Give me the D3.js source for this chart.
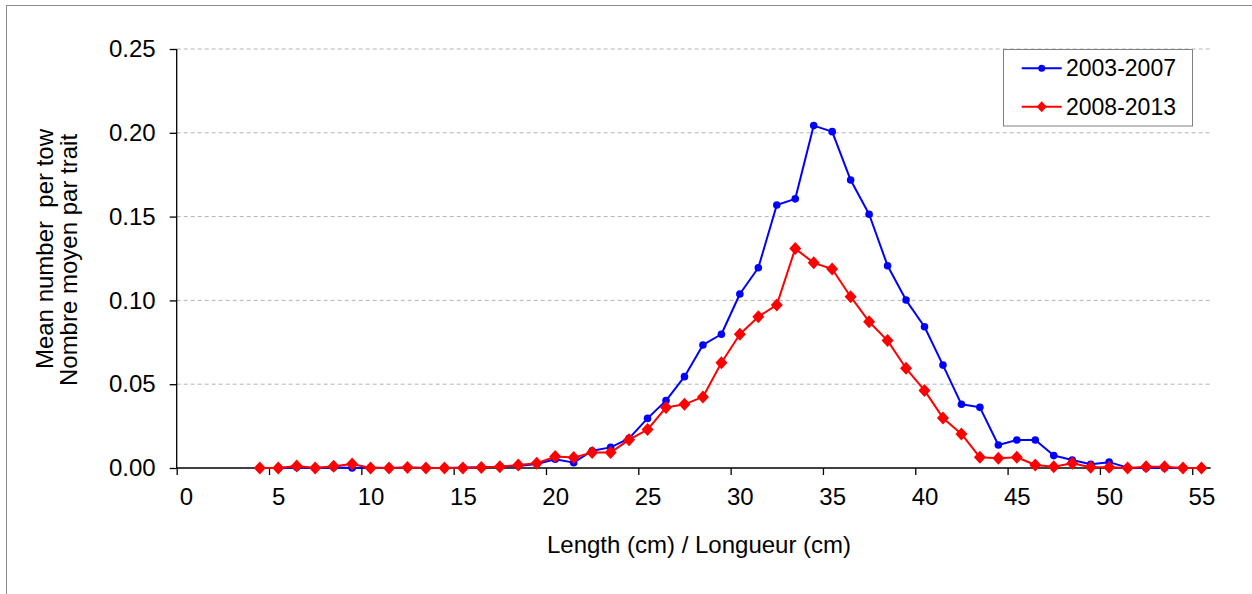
<!DOCTYPE html>
<html>
<head>
<meta charset="utf-8">
<script src="https://cdn.jsdelivr.net/npm/d3@7/dist/d3.min.js"></script>
<style>
  html, body { margin: 0; padding: 0; background: #fff; }
  svg { display: block; font-family: "Liberation Sans", Arial, sans-serif; }
</style>
</head>
<body>
<svg id="chart" width="1252" height="594"></svg>
<script>
// ---- data ----
const lengths = [4,5,6,7,8,9,10,11,12,13,14,15,16,17,18,19,20,21,22,23,24,25,26,27,28,29,
                 30,31,32,33,34,35,36,37,38,39,40,41,42,43,44,45,46,47,48,49,50,51,52,53,54,55];
const series2003_2007 = [0,0,0.0005,0,0.0005,0,0.0003,0,0.0003,0,0,0.0003,0.0005,0.0008,0.0012,0.0024,
                 0.0052,0.0032,0.0103,0.0123,0.0177,0.0296,0.0402,0.0545,0.0734,0.0798,
                 0.1038,0.1195,0.1569,0.1606,0.2043,0.2007,0.1718,0.1514,0.1207,0.1002,
                 0.0843,0.0614,0.038,0.0362,0.0137,0.0167,0.0167,0.0074,0.0048,0.0022,
                 0.0035,0.0002,0,0,0,0];
const series2008_2013 = [0,0,0.0012,0,0.001,0.0024,0,0,0.0003,0,0,0,0.0003,0.0008,0.0018,0.0028,
                 0.0068,0.0062,0.0093,0.0092,0.0169,0.0229,0.0361,0.038,0.0424,0.0628,
                 0.0798,0.0903,0.0973,0.1309,0.1224,0.1187,0.1022,0.0873,0.076,0.0595,
                 0.0463,0.0299,0.0203,0.0064,0.0058,0.0064,0.0018,0.0008,0.0028,0.0004,
                 0.0004,0,0.0008,0.0008,0,0];
const seriesNames = ["2003-2007", "2008-2013"];
const xTickLabels = [0,5,10,15,20,25,30,35,40,45,50,55];
const yTickValues = [0,0.05,0.10,0.15,0.20,0.25];
const yTitleLines = ["Mean number  per tow", "Nombre moyen par trait"];
const xTitle = "Length (cm) / Longueur (cm)";

// ---- layout ----
const svg = d3.select("#chart");
const plot = { left: 176.7, right: 1210.7, top: 49, bottom: 468 };
const fontSize = 24;

const x = d3.scaleLinear().domain([-0.5, 55.5]).range([plot.left, plot.right]);
const y = d3.scaleLinear().domain([0, 0.25]).range([plot.bottom, plot.top]);

// outer border
svg.append("rect").attr("x", 6.5).attr("y", 5.5).attr("width", 1260).attr("height", 600)
  .attr("fill", "none").attr("stroke", "#8c8c8c").attr("stroke-width", 1);

// grid
svg.append("g").selectAll("line").data(yTickValues.filter(d => d > 0)).join("line")
  .attr("x1", plot.left).attr("x2", plot.right)
  .attr("y1", d => y(d)).attr("y2", d => y(d))
  .attr("stroke", "#b4b4b4").attr("stroke-width", 1).attr("stroke-dasharray", "4,3");

// y axis
const yAxis = d3.axisLeft(y).tickValues(yTickValues).tickFormat(d3.format(".2f"))
  .tickSize(7).tickPadding(14);
const gy = svg.append("g").attr("transform", `translate(${plot.left},0)`).call(yAxis);
gy.select(".domain").attr("stroke", "#000").attr("stroke-width", 1.3).attr("d", `M0,${plot.top}V${plot.bottom}`);
gy.selectAll(".tick line").attr("stroke", "#000").attr("stroke-width", 1.3);
gy.selectAll(".tick text").attr("font-size", fontSize).attr("fill", "#000")
  .attr("font-family", "'Liberation Sans', Arial, sans-serif");

// x axis: tick marks at category boundaries, labels at category centres
const xTickMarks = xTickLabels.map(v => v - 0.5);
const xAxisMarks = d3.axisBottom(x).tickValues(xTickMarks).tickFormat("").tickSize(7).tickSizeOuter(0);
const gxm = svg.append("g").attr("transform", `translate(0,${plot.bottom})`).call(xAxisMarks);
gxm.select(".domain").attr("stroke", "#000").attr("stroke-width", 1.3).attr("d", `M${plot.left},0H${plot.right}`);
gxm.selectAll(".tick line").attr("stroke", "#000").attr("stroke-width", 1.3);

const xAxisLabels = d3.axisBottom(x).tickValues(xTickLabels).tickSize(0).tickPadding(20);
const gxl = svg.append("g").attr("transform", `translate(0,${plot.bottom})`).call(xAxisLabels);
gxl.select(".domain").remove();
gxl.selectAll(".tick text").attr("font-size", fontSize).attr("fill", "#000")
  .attr("font-family", "'Liberation Sans', Arial, sans-serif");

// axis titles
svg.append("text").attr("x", 699).attr("y", 553).attr("text-anchor", "middle")
  .attr("font-size", fontSize).attr("fill", "#000").text(xTitle);
const yTitleCenters = [[53, 249], [77, 260]];
yTitleLines.forEach((t, i) => {
  svg.append("text")
    .attr("transform", `translate(${yTitleCenters[i][0]},${yTitleCenters[i][1]}) rotate(-90)`)
    .attr("text-anchor", "middle").attr("font-size", fontSize).attr("fill", "#000")
    .attr("xml:space", "preserve").style("white-space", "pre").text(t);
});

// lines and markers
const colors = ["#0000ff", "#ff0000"];
const allSeries = [series2003_2007, series2008_2013];
const line = d3.line().x((d, i) => x(lengths[i])).y(d => y(d));
const diamond = d3.symbol().type(d3.symbolDiamond2 || d3.symbolDiamond);

allSeries.forEach((vals, s) => {
  svg.append("path").datum(vals).attr("d", line)
    .attr("fill", "none").attr("stroke", colors[s]).attr("stroke-width", 2)
    .attr("stroke-linejoin", "round");
});
// red series drawn on top like the reference
svg.append("g").selectAll("circle").data(series2003_2007).join("circle")
  .attr("cx", (d, i) => x(lengths[i])).attr("cy", d => y(d)).attr("r", 3.8)
  .attr("fill", colors[0]);
svg.append("g").selectAll("path").data(series2008_2013).join("path")
  .attr("transform", (d, i) => `translate(${x(lengths[i])},${y(d)})`)
  .attr("d", "M0,-6.5L6,0L0,6.5L-6,0Z").attr("fill", colors[1]);

// legend
const lg = svg.append("g");
lg.append("rect").attr("x", 1003.5).attr("y", 49.5).attr("width", 189).attr("height", 76.5)
  .attr("fill", "#fff").attr("stroke", "#808080").attr("stroke-width", 1);
const legendRows = [68.3, 106.7];
seriesNames.forEach((name, i) => {
  const yy = legendRows[i];
  lg.append("line").attr("x1", 1021.7).attr("x2", 1061.7).attr("y1", yy).attr("y2", yy)
    .attr("stroke", colors[i]).attr("stroke-width", 2);
  if (i === 0) {
    lg.append("circle").attr("cx", 1041.7).attr("cy", yy).attr("r", 3.5).attr("fill", colors[i]);
  } else {
    lg.append("path").attr("transform", `translate(1041.7,${yy})`)
      .attr("d", "M0,-5.5L5,0L0,5.5L-5,0Z").attr("fill", colors[i]);
  }
  lg.append("text").attr("x", 1066).attr("y", yy + 8).attr("font-size", 23).attr("fill", "#000").text(name);
});
</script>
</body>
</html>
